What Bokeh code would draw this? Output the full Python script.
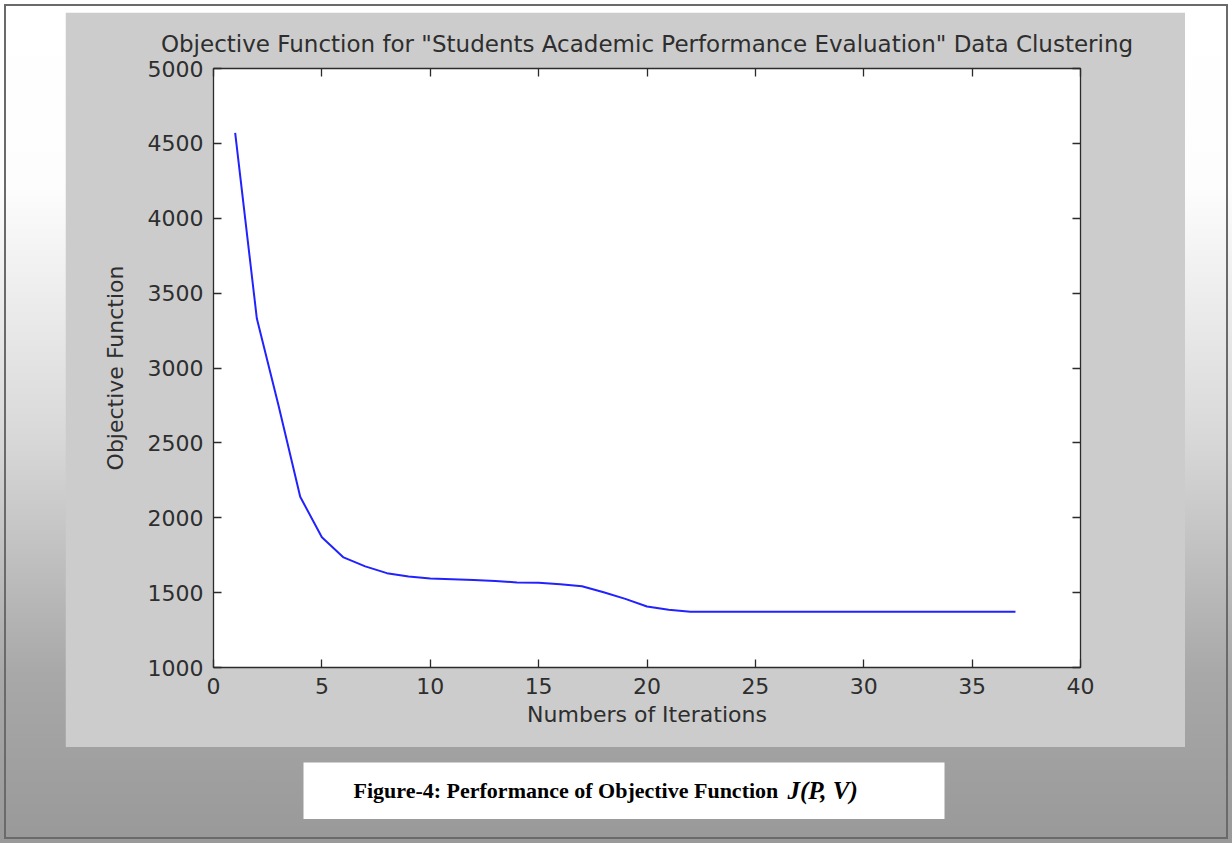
from bokeh.plotting import figure
from bokeh.layouts import column
from bokeh.models import LinearAxis, Label, Range1d, FixedTicker
from bokeh.embed import file_html
from bokeh.resources import INLINE

# ---------------- data ----------------
iterations = list(range(1, 38))
objective = [4570, 3330, 2750, 2140, 1870, 1735, 1675, 1630, 1607, 1595,
             1590, 1585, 1578, 1568, 1566, 1556, 1543, 1502, 1458, 1407,
             1385, 1373, 1373, 1373, 1373, 1373, 1373, 1373, 1373, 1373,
             1373, 1373, 1373, 1373, 1373, 1373, 1373]
x_ticks = [0, 5, 10, 15, 20, 25, 30, 35, 40]
y_ticks = [1000, 1500, 2000, 2500, 3000, 3500, 4000, 4500, 5000]
title_text = 'Objective Function for "Students Academic Performance Evaluation" Data Clustering'
x_label = "Numbers of Iterations"
y_label = "Objective Function"
caption_main = "Figure-4: Performance of Objective Function"
caption_math = "J(P, V)"

FONT = "DejaVu Sans"
INK = "#2b2b2b"
TXT = "#2e2e2e"

# ---------------- main (gray) figure panel ----------------
PW, PH = 1120, 735            # gray panel size
FL, FR, FT, FB = 148, 1015, 56, 655   # frame edges inside the panel

p = figure(width=PW, height=PH, x_range=Range1d(0, 40), y_range=Range1d(1000, 5000),
           x_axis_type=None, y_axis_type=None,
           output_backend="svg", toolbar_location=None,
           min_border_left=FL, min_border_right=PW - FR,
           min_border_top=FT, min_border_bottom=PH - FB,
           title=title_text)
p.border_fill_color = "#cccccc"
p.background_fill_color = "white"
p.outline_line_color = INK
p.margin = (12, 0, 0, 65)
p.title.align = "center"
p.title.text_font = FONT
p.title.text_font_size = "23px"
p.title.text_font_style = "normal"
p.title.text_color = TXT
p.title.standoff = 23


def style_axis(ax, ticks, labels):
    ax.ticker = FixedTicker(ticks=ticks)
    ax.major_tick_in = 8
    ax.major_tick_out = 0
    ax.minor_tick_line_color = None
    ax.axis_line_color = INK
    ax.major_tick_line_color = INK
    ax.axis_line_width = 1.3
    ax.major_tick_line_width = 1.3
    ax.major_label_text_font = FONT
    ax.major_label_text_font_size = "22px"
    ax.major_label_text_color = TXT if labels else None
    ax.major_label_standoff = 10
    ax.axis_label_text_font = FONT
    ax.axis_label_text_font_size = "22px"
    ax.axis_label_text_font_style = "normal"
    ax.axis_label_text_color = TXT


xb = LinearAxis(axis_label=x_label, axis_label_standoff=5)
style_axis(xb, x_ticks, True)
yl = LinearAxis(axis_label=y_label, axis_label_standoff=17)
style_axis(yl, y_ticks, True)
xt = LinearAxis()
style_axis(xt, x_ticks, False)
yr = LinearAxis()
style_axis(yr, y_ticks, False)
p.add_layout(xb, "below")
p.add_layout(yl, "left")
p.add_layout(xt, "above")
p.add_layout(yr, "right")

p.line(iterations, objective, line_color="#2222ff", line_width=2)

# ---------------- caption box ----------------
# the column aligns plot frames, so the caption figure uses the same side borders
# and its (white) frame is the caption box
CW, CH = 641, 57
cap = figure(width=FL + CW + (PW - FR), height=CH,
             x_range=Range1d(0, 1), y_range=Range1d(0, 1),
             x_axis_type=None, y_axis_type=None,
             output_backend="svg", toolbar_location=None,
             min_border_left=FL, min_border_right=PW - FR,
             min_border_top=0, min_border_bottom=0)
cap.border_fill_color = None
cap.background_fill_color = "white"
cap.outline_line_color = None
cap.margin = (15, 0, 0, 303 - FL)
cap.add_layout(Label(x=50, y=29, x_units="screen", y_units="screen",
                     text=caption_main, text_align="left", text_baseline="middle",
                     text_font="Liberation Serif", text_font_style="bold",
                     text_font_size="22px", text_color="black"))
cap.add_layout(Label(x=484, y=29, x_units="screen", y_units="screen",
                     text=caption_math, text_align="left", text_baseline="middle",
                     text_font="Liberation Serif", text_font_style="bold italic",
                     text_font_size="25px", text_color="black"))

page = column(p, cap, width=1232, height=843, spacing=0,
              styles={"background": "linear-gradient(to bottom, #ffffff 0%, #fdfdfd 22%, #d8d8d8 52%, #a8a8a8 80%, #999999 100%)",
                      "outline": "2px solid #6a6a6a", "outline-offset": "-6px"})

open("out.html", "w").write(file_html(page, INLINE))
